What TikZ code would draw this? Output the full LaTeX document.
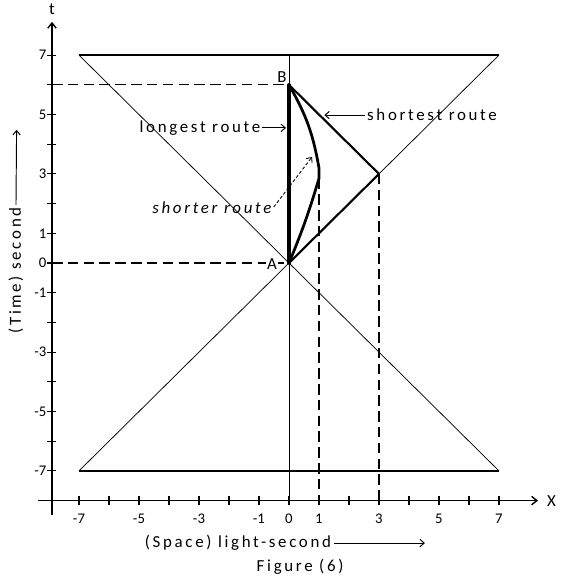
\documentclass[tikz,border=0pt]{standalone}
\usepackage{fontspec}
\setmainfont{Carlito}
\newfontfamily\lblfont[LetterSpace=16]{Carlito}
\usetikzlibrary{arrows.meta}
\tikzset{
  axisline/.style={line width=1.3pt},
  tickmark/.style={line width=1.1pt},
  cone/.style={line width=0.7pt},
  guide/.style={line width=1.1pt, dash pattern=on 10pt off 5pt},
  lbl/.style={font=\lblfont\fontsize{16}{19}\selectfont, inner sep=0pt},
  num/.style={font=\fontsize{14}{16}\selectfont, inner sep=0pt},
  tipped/.style={-{Straight Barb[length=4pt,width=7pt]}, line width=0.9pt},
}
\begin{document}
\begin{tikzpicture}[x=1cm,y=0.99cm]
\useasboundingbox (-9.633cm,-10.6cm) rectangle (9.167cm,8.767cm);
% key points
\coordinate (A) at (0,0);
\coordinate (B) at (0,6);
\coordinate (C) at (3,3);
\coordinate (P) at (1,3.2);
\coordinate (Q) at (1,2.85);
\coordinate (TL) at (-7,7);
\coordinate (TR) at (7,7);
\coordinate (BL) at (-7,-7);
\coordinate (BR) at (7,-7);
\coordinate (ztop) at (0,7);
\coordinate (zbot) at (0,-8);
% axes
\coordinate (yaxB) at (-7.9,-8.5);
\coordinate (yaxT) at (-7.9,8.12);
\coordinate (xaxL) at (-8.37,-8);
\coordinate (xaxR) at (8.3,-8);
\draw[axisline, -{Straight Barb[length=5pt,width=8pt]}] (yaxB) -- (yaxT);
\draw[axisline, -{Straight Barb[length=5pt,width=8pt]}] (xaxL) -- (xaxR);
\node[lbl] (tlab) at (-7.9,8.55) {t};
\node[lbl] (xlab) at (8.75,-8) {X};
\foreach \v in {-7,...,7} {
  \draw[tickmark] (-8.05,\v) -- (-7.75,\v);
  \draw[tickmark] (\v,-8.15) -- (\v,-7.85);
}
\foreach \v in {7,5,3,1,0,-1,-3,-5,-7}
  \node[num, anchor=east] (yl\v) at (-8.08,\v) {\v};
\foreach \v in {-7,-5,-3,-1,0,1,3,5,7}
  \node[num] (xl\v) at (\v,-8.6) {\v};
% light cone
\draw[line width=1.5pt] (TL) -- (TR);
\draw[line width=1.2pt] (BL) -- (BR);
\draw[cone] (TL) -- (BR);
\draw[cone] (TR) -- (BL);
\draw[cone] (zbot) -- (ztop);
% dashed guides
\coordinate (yB) at (-7.9,6);
\coordinate (yA) at (-7.9,0);
\coordinate (x1) at (1,-8);
\coordinate (x3) at (3,-8);
\draw[guide] (yB) -- (B);
\draw[guide] (yA) -- (A);
\draw[guide] (Q) -- (x1);
\draw[guide] (C) -- (x3);
% routes
\draw[line width=3pt, line cap=round] (A) -- (B);
\draw[line width=2pt, line join=round, line cap=round] (B) -- (C) -- (A);
\draw[line width=2.6pt, line join=round, line cap=round] (B) to[bend left=10] (P) -- (Q) to[bend left=3] (A);
% point labels
\node[lbl, fill=white, inner sep=1pt] (Alab) at (-0.57,-0.05) {A};
\node[lbl] (Blab) at (-0.23,6.26) {B};
% route labels
\node[lbl, anchor=east] (longest) at (-0.95,4.55) {longest route};
\coordinate (lngT) at (-0.1,4.55);
\draw[tipped] ([xshift=1pt]longest.east) -- (lngT);
\node[lbl, anchor=west] (shortest) at (2.6,4.98) {shortest route};
\coordinate (shT) at (1.18,4.98);
\draw[tipped] ([xshift=-2pt]shortest.west) -- (shT);
\node[lbl, font=\lblfont\itshape\fontsize{16}{19}\selectfont] (shorter) at (-2.57,1.85) {shorter route};
\coordinate (shrT) at (0.77,3.57);
\draw[tipped, line width=0.8pt, dash pattern=on 3pt off 2pt] ([xshift=2pt,yshift=1pt]shorter.east) -- (shrT);
% axis titles
\node[lbl, rotate=90] (timelbl) at (-9.1,-0.25) {(Time) second};
\coordinate (timeT) at (-9.08,4.48);
\draw[tipped] ([yshift=2pt]timelbl.east) -- (timeT);
\node[lbl] (spacelbl) at (-1.7,-9.43) {(Space) light-second};
\coordinate (spaceT) at (4.53,-9.43);
\draw[tipped] ([xshift=3pt]spacelbl.east) -- (spaceT);
\node[lbl] (figlbl) at (0.37,-10.24) {Figure (6)};
\end{tikzpicture}
\end{document}
